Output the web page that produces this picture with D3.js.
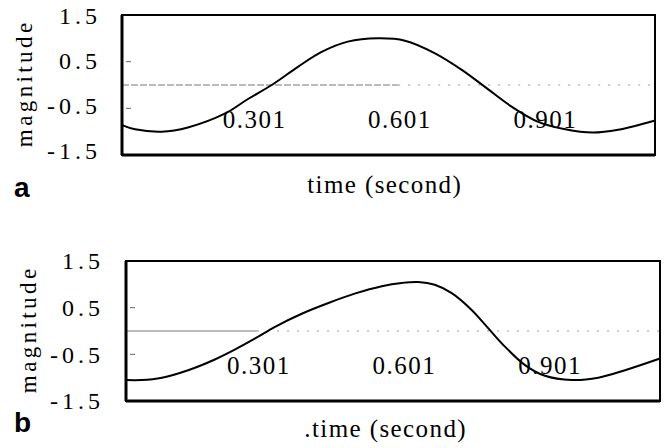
<!DOCTYPE html>
<html>
<head>
<meta charset="utf-8">
<script src="https://cdn.jsdelivr.net/npm/d3@7"></script>
<style>
  body { margin: 0; background: #fff; }
</style>
</head>
<body>
<div id="chart"></div>
<script>
// values (time in seconds, magnitude)
const timeA = [0.030, 0.057, 0.112, 0.166, 0.243, 0.290, 0.339, 0.393, 0.442, 0.496, 0.558,
               0.614, 0.676, 0.732, 0.779, 0.835, 0.889, 0.945, 1.001, 1.054, 1.130];
const magA  = [-0.86, -0.95, -1.00, -0.91, -0.61, -0.30, 0.00, 0.39, 0.71, 0.93, 1.00,
               0.95, 0.68, 0.32, -0.04, -0.47, -0.79, -0.95, -1.02, -0.96, -0.76];

const timeB = [0.030, 0.062, 0.104, 0.158, 0.213, 0.254, 0.296, 0.337, 0.392, 0.447, 0.501,
               0.557, 0.598, 0.632, 0.666, 0.701, 0.742, 0.776, 0.811, 0.852, 0.893, 0.948,
               1.003, 1.058, 1.130];
const magB  = [-1.05, -1.05, -1.00, -0.84, -0.61, -0.40, -0.16, 0.09, 0.37, 0.60, 0.80,
               0.96, 1.03, 1.05, 0.99, 0.81, 0.45, 0.06, -0.34, -0.73, -0.96, -1.05,
               -1.00, -0.84, -0.59];

const yTicks = [1.5, 0.5, -0.5, -1.5];
const xTicks = [0.301, 0.601, 0.901];
const timeDomain = [0.03, 1.13];
const magDomain = [-1.5, 1.5];

const serif = "Liberation Serif";
const width = 664, height = 448;

// spread letters with a dx list (letter-spacing knocks the font out here)
function gaps(str, sp) {
    return [0].concat(Array(str.length - 1).fill(sp)).join(" ");
}

const svg = d3.select("#chart")
              .append("svg")
              .attr("width", width)
              .attr("height", height);

function drawPanel(p) {
    const g = svg.append("g");

    const x_scale = d3.scaleLinear().domain(timeDomain).range([p.left, p.right]);
    const y_scale = d3.scaleLinear().domain(magDomain).range([p.bottom, p.top]);

    // zero line, dashed left part and sparse dots on the right
    g.append("line")
     .attr("x1", p.left).attr("x2", x_scale(p.split))
     .attr("y1", y_scale(0)).attr("y2", y_scale(0))
     .attr("stroke", "#777").attr("stroke-width", 1)
     .attr("stroke-dasharray", p.dash);
    g.append("line")
     .attr("x1", x_scale(p.split)).attr("x2", p.right)
     .attr("y1", y_scale(0)).attr("y2", y_scale(0))
     .attr("stroke", "#999").attr("stroke-width", 1)
     .attr("stroke-dasharray", "2,8");

    // little inner ticks at +-0.5
    g.selectAll(".minor")
     .data([0.5, -0.5])
     .enter().append("line")
     .attr("x1", p.left + 4).attr("x2", p.left + 9)
     .attr("y1", d => y_scale(d)).attr("y2", d => y_scale(d))
     .attr("stroke", "#666").attr("stroke-width", 1);

    // x tick labels sit inside the box
    const x_axis = d3.axisTop(x_scale)
                     .tickValues(xTicks)
                     .tickFormat(d => d.toFixed(3))
                     .tickSize(0).tickPadding(0);
    const xg = g.append("g")
                .attr("transform", `translate(0,${p.bottom - 27})`)
                .call(x_axis);
    xg.select(".domain").remove();
    xg.attr("font-family", serif).attr("font-size", 25);
    xg.selectAll("text")
      .attr("font-family", serif)
      .attr("font-size", 25)
      .attr("dx", d => gaps(d.toFixed(3), 1.5))
      .attr("fill", "#000");

    // the signal
    const line = d3.line()
                   .x(d => x_scale(d[0]))
                   .y(d => y_scale(d[1]))
                   .curve(d3.curveCatmullRom.alpha(0.5));
    g.append("path")
     .datum(p.time.map((t, i) => [t, p.mag[i]]))
     .attr("d", line)
     .attr("fill", "none")
     .attr("stroke", "#000")
     .attr("stroke-width", 2);

    // frame
    g.append("rect")
     .attr("x", p.left).attr("y", p.top)
     .attr("width", p.right - p.left).attr("height", p.bottom - p.top)
     .attr("fill", "none").attr("stroke", "#000").attr("stroke-width", 2);
    g.append("line")
     .attr("x1", p.left).attr("x2", p.left)
     .attr("y1", p.top).attr("y2", p.bottom)
     .attr("stroke", "#000").attr("stroke-width", 3);
    g.append("line")
     .attr("x1", p.left).attr("x2", p.right)
     .attr("y1", p.bottom).attr("y2", p.bottom)
     .attr("stroke", "#000").attr("stroke-width", 3);

    // y axis labels
    const y_axis = d3.axisLeft(y_scale)
                     .tickValues(yTicks)
                     .tickFormat(d => d.toFixed(1))
                     .tickSize(0).tickPadding(0);
    const yg = g.append("g")
                .attr("transform", `translate(${p.yLabelRight},0)`)
                .call(y_axis);
    yg.select(".domain").remove();
    yg.attr("font-family", serif).attr("font-size", 24);
    yg.selectAll("text")
      .attr("font-family", serif)
      .attr("font-size", 24)
      .attr("dx", d => gaps(d.toFixed(1), 4))
      .attr("dy", "0.33em")
      .attr("fill", "#000")
      .attr("transform", d => `translate(0,${p.labelShift(d)})`);

    g.append("text")
     .attr("font-family", serif)
     .attr("font-size", 23)
     .attr("dx", gaps("magnitude", 3.4))
     .attr("transform", `translate(${p.magX},${(p.top + p.bottom) / 2}) rotate(-90)`)
     .attr("text-anchor", "middle")
     .text("magnitude");

    g.append("text")
     .attr("font-family", serif)
     .attr("font-size", 25)
     .attr("dx", gaps(p.xLabel, 1.4))
     .attr("x", p.xLabelX).attr("y", p.xLabelY)
     .attr("text-anchor", "middle")
     .text(p.xLabel);

    g.append("text")
     .attr("x", 14).attr("y", p.tagY)
     .attr("font-family", "Liberation Sans")
     .attr("font-weight", "bold")
     .attr("font-size", 28)
     .text(p.tag);
}

drawPanel({
    time: timeA, mag: magA,
    left: 122, right: 655, top: 15, bottom: 155,
    split: 0.6, dash: "7,2",
    yLabelRight: 97, labelShift: d => (5 / 3) * d - 2,
    magX: 32, xLabelX: 384, xLabelY: 193, xLabel: "time (second)",
    tag: "a", tagY: 197
});

drawPanel({
    time: timeB, mag: magB,
    left: 126, right: 660, top: 261, bottom: 401,
    split: 0.3, dash: null,
    yLabelRight: 100, labelShift: d => 0,
    magX: 36, xLabelX: 385, xLabelY: 437, xLabel: ".time (second)",
    tag: "b", tagY: 432
});
</script>
</body>
</html>
